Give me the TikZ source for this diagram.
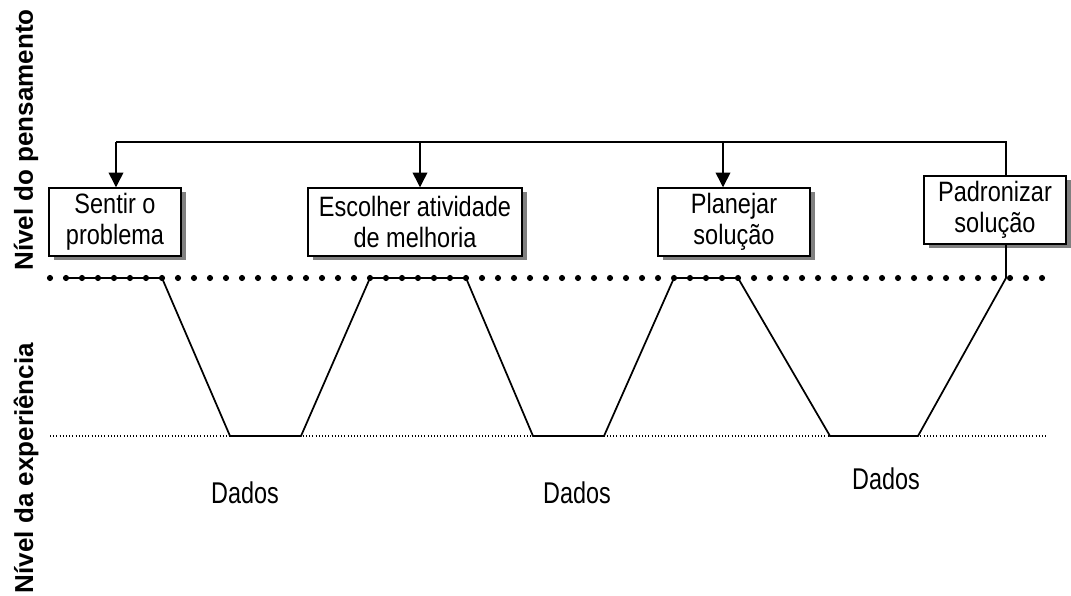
\documentclass[tikz,border=0pt]{standalone}
\usepackage{fontspec}
\setmainfont{Liberation Sans}
\newfontfamily\boxfont[FakeStretch=0.84]{Liberation Sans}
\newfontfamily\datafont[FakeStretch=0.78]{Liberation Sans}
\newfontfamily\levelfont{Liberation Sans Bold}
\usetikzlibrary{arrows.meta,shadows}

\begin{document}
\begin{tikzpicture}[x=0.75pt,y=-0.75pt,
  stepbox/.style={draw, line width=1.1pt, fill=white, align=center, inner sep=0pt,
    font=\boxfont\fontsize{21}{23.25}\selectfont, minimum height=51pt,
    general shadow={fill=black!50, shadow xshift=3.6pt, shadow yshift=-3.2pt}},
  link/.style={line width=1.1pt},
  arrowlink/.style={link, -{Triangle[width=11pt,length=11pt]}},
  trail/.style={line width=1.3pt, line join=miter},
  grounddots/.style={line width=0.8pt, dash pattern=on 0.8pt off 1.6pt},
  levellabel/.style={font=\levelfont\fontsize{19.5}{22}\selectfont, rotate=90},
  datalabel/.style={font=\datafont\fontsize{22.5}{26}\selectfont},
]
\useasboundingbox (0,0) rectangle (1071,596);

% level labels
\node[levellabel] (lthink) at (26,140) {Nível do pensamento};
\node[levellabel] (lexp) at (26,468) {Nível da experiência};

% steps on the thinking level
\node[stepbox, minimum width=99pt]    (b1) at (115,222) {Sentir o\\problema};
\node[stepbox, minimum width=160.5pt] (b2) at (415,222) {Escolher atividade\\de melhoria};
\node[stepbox, minimum width=114pt]   (b3) at (734,222) {Planejar\\solução};
\node[stepbox, minimum width=106.5pt] (b4) at (995,210) {Padronizar\\solução};

% feedback line across the top
\coordinate (t1) at (116,142);
\coordinate (t2) at (420,142);
\coordinate (t3) at (723,142);
\coordinate (t4) at (1006,142);
\draw[link] (t1) -- (t4) -- (t4 |- b4.north);
\draw[arrowlink] (t1) -- (t1 |- b1.north);
\draw[arrowlink] (t2) -- (t2 |- b2.north);
\draw[arrowlink] (t3) -- (t3 |- b3.north);

% experience level
\draw[grounddots] (50,436) -- (1048,436);

% path between the two levels
\draw[trail] (t4 |- b4.south) -- (1006,278) -- (918,436) -- (830,436)
  -- (738,278) -- (674,278) -- (604,436) -- (533,436) -- (466,278)
  -- (370,278) -- (301,436) -- (230,436) -- (162,278) -- (66,278);

% dotted boundary of the thinking level
\foreach \k in {0,...,62}
  \fill (50+16*\k,278) circle[radius=2.3pt];

% data labels
\node[datalabel] (d1) at (245,493) {Dados};
\node[datalabel] (d2) at (577,493) {Dados};
\node[datalabel] (d3) at (886,479) {Dados};
\end{tikzpicture}
\end{document}
